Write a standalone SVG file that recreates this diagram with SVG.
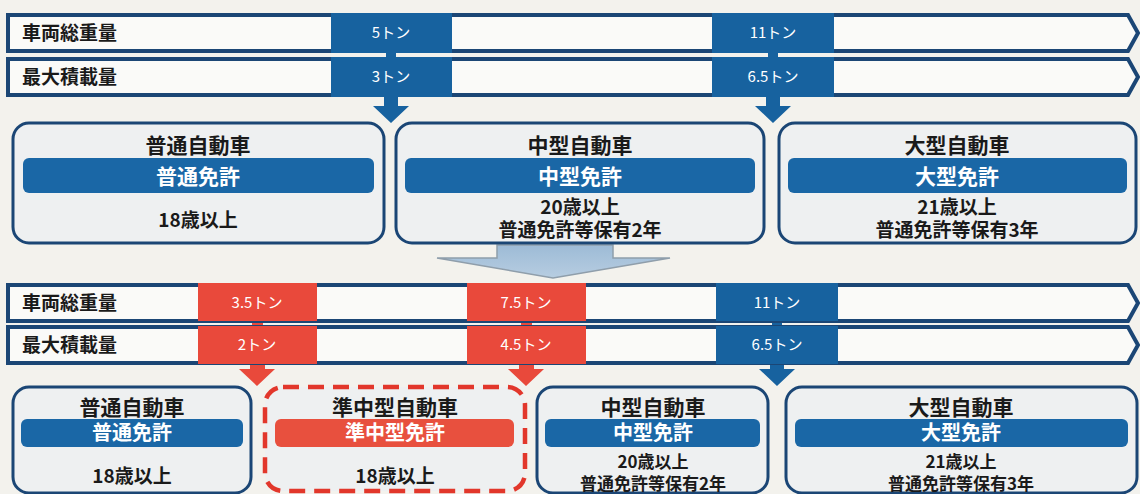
<svg xmlns="http://www.w3.org/2000/svg" width="1140" height="494" viewBox="0 0 1140 494">
<defs>
<style>
.bar{fill:#fafaf8;stroke:#1b4675;stroke-width:4;stroke-linejoin:miter}
.blk{fill:#17629f}
.rblk{fill:#e9493b}
.lbl{font-family:"Noto Sans CJK JP","Noto Sans",sans-serif;font-weight:700;font-size:19px;fill:#1a1a1a}
.bt{font-family:"Noto Sans CJK JP","Noto Sans",sans-serif;font-size:15px;fill:#ffffff;text-anchor:middle}
.box{fill:#eef0f1;stroke:#1b4675;stroke-width:3}
.rbox{fill:#eef0f1;stroke:#e2372b;stroke-width:4.5;stroke-dasharray:16 9}
.band{fill:#1a67a6}
.rband{fill:#e8503e}
.ttl{font-family:"Noto Sans CJK JP","Noto Sans",sans-serif;font-weight:700;font-size:21px;fill:#1a1a1a;text-anchor:middle}
.bnd{font-family:"Noto Sans CJK JP","Noto Sans",sans-serif;font-weight:700;font-size:21px;fill:#ffffff;text-anchor:middle}
.bnd2{font-family:"Noto Sans CJK JP","Noto Sans",sans-serif;font-weight:700;font-size:20px;fill:#ffffff;text-anchor:middle}
.sub{font-family:"Noto Sans CJK JP","Noto Sans",sans-serif;font-weight:700;font-size:19px;fill:#1a1a1a;text-anchor:middle}
.sub2{font-family:"Noto Sans CJK JP","Noto Sans",sans-serif;font-weight:700;font-size:17px;fill:#1a1a1a;text-anchor:middle}
</style>
<linearGradient id="bigArrow" x1="0" y1="0" x2="0" y2="1">
<stop offset="0" stop-color="#9dbbd6"/>
<stop offset="1" stop-color="#b7cde1"/>
</linearGradient>
</defs>
<rect x="0" y="0" width="1140" height="494" fill="#f3f2ed"/>

<g id="top-bars">
<path class="bar" d="M8,15 H1128 L1138,33 L1128,51 H8 Z"/>
<path class="bar" d="M8,59 H1128 L1138,77 L1128,95 H8 Z"/>
<text class="lbl" x="22" y="40">車両総重量</text>
<text class="lbl" x="22" y="84">最大積載量</text>
</g>

<g id="top-blocks">
<rect class="blk" x="331" y="13" width="121" height="40"/>
<rect class="blk" x="331" y="57" width="121" height="40"/>
<text class="bt" x="391" y="38">5トン</text>
<text class="bt" x="391" y="82">3トン</text>
<rect class="blk" x="712" y="13" width="122" height="40"/>
<rect class="blk" x="712" y="57" width="122" height="40"/>
<text class="bt" x="773" y="38">11トン</text>
<text class="bt" x="773" y="82">6.5トン</text>
</g>

<g id="connectors">
<rect class="blk" x="386" y="53" width="10" height="4"/>
<path class="blk" d="M384,97 H398 V106 H409 L391,123 L373,106 H384 Z"/>
<rect class="blk" x="768" y="53" width="10" height="4"/>
<path class="blk" d="M766,97 H780 V106 H791 L773,123 L755,106 H766 Z"/>
<path d="M497,245 H613 V258 H670 L553,278 L437,258 H497 Z" fill="url(#bigArrow)" stroke="#8f9eab" stroke-width="1.5"/>
<rect class="rblk" x="252" y="320" width="11" height="6"/>
<path class="rblk" d="M250,362 H265 V369 H275 L257,386 L239,369 H250 Z"/>
<rect class="rblk" x="521" y="320" width="11" height="6"/>
<path class="rblk" d="M519,362 H534 V369 H544 L526,386 L508,369 H519 Z"/>
<rect class="blk" x="772" y="320" width="10" height="6"/>
<path class="blk" d="M770,362 H784 V369 H795 L777,386 L759,369 H770 Z"/>
</g>

<g id="bottom-bars">
<path class="bar" d="M8,285 H1128 L1138,303 L1128,321 H8 Z"/>
<path class="bar" d="M8,327 H1128 L1138,345 L1128,363 H8 Z"/>
<text class="lbl" x="22" y="310">車両総重量</text>
<text class="lbl" x="22" y="352">最大積載量</text>
</g>

<g id="bottom-blocks">
<rect class="rblk" x="198" y="283" width="119" height="38"/>
<rect class="rblk" x="198" y="326" width="119" height="38"/>
<text class="bt" x="257" y="308">3.5トン</text>
<text class="bt" x="257" y="350">2トン</text>
<rect class="rblk" x="467" y="283" width="119" height="38"/>
<rect class="rblk" x="467" y="326" width="119" height="38"/>
<text class="bt" x="526" y="308">7.5トン</text>
<text class="bt" x="526" y="350">4.5トン</text>
<rect class="blk" x="716" y="283" width="122" height="38"/>
<rect class="blk" x="716" y="326" width="122" height="38"/>
<text class="bt" x="777" y="308">11トン</text>
<text class="bt" x="777" y="350">6.5トン</text>
</g>

<g id="top-box-futsu">
<rect class="box" x="13" y="123" width="371" height="120" rx="16"/>
<rect class="band" x="23" y="158" width="351" height="35" rx="6"/>
<text class="ttl" x="198" y="153">普通自動車</text>
<text class="bnd" x="198" y="184">普通免許</text>
<text class="sub" x="198" y="227">18歳以上</text>
</g>
<g id="top-box-chugata">
<rect class="box" x="396" y="123" width="368" height="120" rx="16"/>
<rect class="band" x="405" y="158" width="350" height="35" rx="6"/>
<text class="ttl" x="580" y="153">中型自動車</text>
<text class="bnd" x="580" y="184">中型免許</text>
<text class="sub" x="580" y="214">20歳以上</text>
<text class="sub" x="580" y="237">普通免許等保有2年</text>
</g>
<g id="top-box-ogata">
<rect class="box" x="779" y="123" width="357" height="120" rx="16"/>
<rect class="band" x="788" y="158" width="339" height="35" rx="6"/>
<text class="ttl" x="957" y="153">大型自動車</text>
<text class="bnd" x="957" y="184">大型免許</text>
<text class="sub" x="957" y="214">21歳以上</text>
<text class="sub" x="957" y="237">普通免許等保有3年</text>
</g>

<g id="bottom-box-futsu">
<rect class="box" x="13" y="387" width="238" height="106" rx="16"/>
<rect class="band" x="21" y="419" width="222" height="28" rx="6"/>
<text class="ttl" x="132" y="415">普通自動車</text>
<text class="bnd2" x="132" y="440">普通免許</text>
<text class="sub" x="132" y="483">18歳以上</text>
</g>
<g id="bottom-box-junchugata">
<rect class="rbox" x="265" y="387" width="260" height="104" rx="18"/>
<rect class="rband" x="275" y="419" width="239" height="28" rx="6"/>
<text class="ttl" x="395" y="415">準中型自動車</text>
<text class="bnd2" x="395" y="440">準中型免許</text>
<text class="sub" x="395" y="483">18歳以上</text>
</g>
<g id="bottom-box-chugata">
<rect class="box" x="537" y="387" width="231" height="106" rx="16"/>
<rect class="band" x="545" y="419" width="215" height="28" rx="6"/>
<text class="ttl" x="653" y="415">中型自動車</text>
<text class="bnd2" x="653" y="440">中型免許</text>
<text class="sub2" x="653" y="468">20歳以上</text>
<text class="sub2" x="653" y="490">普通免許等保有2年</text>
</g>
<g id="bottom-box-ogata">
<rect class="box" x="786" y="387" width="351" height="106" rx="16"/>
<rect class="band" x="795" y="419" width="333" height="28" rx="6"/>
<text class="ttl" x="961" y="415">大型自動車</text>
<text class="bnd2" x="961" y="440">大型免許</text>
<text class="sub2" x="961" y="468">21歳以上</text>
<text class="sub2" x="961" y="490">普通免許等保有3年</text>
</g>
</svg>
